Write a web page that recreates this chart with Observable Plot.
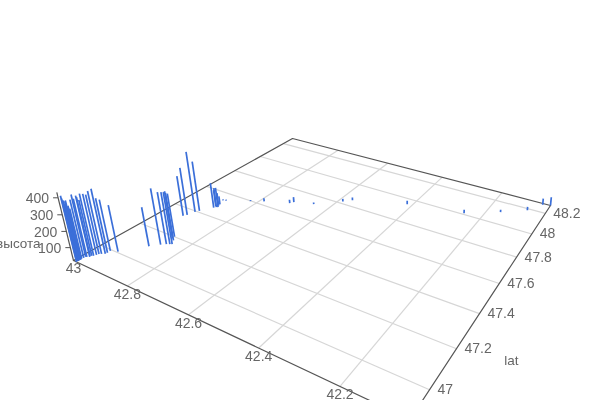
<!DOCTYPE html>
<html>
<head>
<meta charset="utf-8">
<script src="https://cdn.jsdelivr.net/npm/d3@7"></script>
<script src="https://cdn.jsdelivr.net/npm/@observablehq/plot@0.6"></script>
<style>html,body{margin:0;padding:0;background:#fff}svg{display:block;will-change:transform}</style>
</head>
<body>
<div id="chart"></div>
<script>
const lonValues = [42.988,42.989,42.987,42.989,42.991,42.989,42.988,42.988,42.985,42.979,42.979,42.975,42.972,42.965,42.957,42.956,42.957,42.937,
  42.990,42.988,42.987,42.982,42.970,
  42.889,42.869,42.858,42.850,42.845,42.856,42.867,42.865,
  42.929,42.923,42.916,42.909,
  42.888,42.883,42.879,42.889,42.884,42.886,42.894,42.886,
  42.822,42.786,42.715,42.708,42.651,42.586,42.566,42.415,42.251,42.163,42.100,42.071,42.050];
const latValues = [46.874,46.880,46.882,46.889,46.895,46.898,46.906,46.915,46.917,46.923,46.932,46.936,46.946,46.961,46.969,46.978,46.993,47.005,
  46.877,46.885,46.892,46.928,46.955,
  47.096,47.129,47.144,47.151,47.156,47.179,47.201,47.187,
  47.342,47.357,47.394,47.410,
  47.466,47.475,47.479,47.481,47.491,47.503,47.537,47.544,
  47.599,47.629,47.678,47.695,47.728,47.818,47.852,47.951,48.012,48.106,48.186,48.272,48.284];
const heightValues = [419,388,370,382,339,327,376,400,376,394,363,400,394,406,419,357,339,310,
  400,380,350,380,385,
  267,373,348,348,348,322,297,322,
  287,336,423,354,
  190,152,154,131,107,75,27,26,
  26,42,43,55,31,38,39,44,43,36,43,63,78];
const lonTicks = [43,42.8,42.6,42.4,42.2];
const latTicks = [48.2,48,47.8,47.6,47.4,47.2,47];
const heightTicks = [400,300,200,100];

const lonRange = [43, 42.05], latRange = [46.874, 48.284], heightRange = [19, 431];

// Perspective camera of the 3D scene
const cam = {a:219.42,b:353.31,c:73,d:39.21,e:-58.53,f:260,g:-0.2859,h:0.45996,k:-1.151e-4,vx:409,vy:1627};
function project(lon, lat, z = heightRange[0]) {
  const s = (lonRange[0]-lon)/(lonRange[0]-lonRange[1]);
  const t = (lat-latRange[0])/(latRange[1]-latRange[0]);
  const q = (z-heightRange[0])*cam.k;
  const w = cam.g*s+cam.h*t+1+q;
  return [(cam.a*s+cam.b*t+cam.c+q*cam.vx)/w, (cam.d*s+cam.e*t+cam.f+q*cam.vy)/w];
}
const px = (lon,lat,z)=>project(lon,lat,z)[0];
const py = (lon,lat,z)=>project(lon,lat,z)[1];

const bars = lonValues.map((lon,i)=>({lon,lat:latValues[i],height:heightValues[i]}));
const [lon0,lon1] = lonRange, [lat0,lat1] = latRange, [z0,z1] = heightRange;
const frame = [[lon0,lat0],[lon1,lat0],[lon1,lat1],[lon0,lat1],[lon0,lat0]];
const gridColor = "#d6d6d6", axisColor = "#555", textColor = "#666", barColor = "#3b6fd9";
const font = "Liberation Sans, Arial, sans-serif";

const chart = Plot.plot({
  width: 600, height: 400,
  margin: 0,
  x: {domain:[0,600], range:[0,600], axis:null},
  y: {domain:[0,400], range:[0,400], axis:null},
  style: {background:"#fff", fontFamily:font},
  marks: [
    Plot.link(lonTicks.slice(1), {
      x1:d=>px(d,lat0), y1:d=>py(d,lat0), x2:d=>px(d,lat1), y2:d=>py(d,lat1),
      stroke:gridColor, strokeWidth:1.2}),
    Plot.link(latTicks, {
      x1:d=>px(lon0,d), y1:d=>py(lon0,d), x2:d=>px(lon1,d), y2:d=>py(lon1,d),
      stroke:gridColor, strokeWidth:1.2}),
    Plot.line(frame, {x:d=>px(d[0],d[1]), y:d=>py(d[0],d[1]), stroke:axisColor, strokeWidth:1.2}),
    Plot.link([0], {
      x1:()=>px(lon0,lat0,z0), y1:()=>py(lon0,lat0,z0), x2:()=>px(lon0,lat0,z1), y2:()=>py(lon0,lat0,z1),
      stroke:axisColor, strokeWidth:1.2}),
    Plot.link(heightTicks, {
      x1:d=>px(lon0,lat0,d), y1:d=>py(lon0,lat0,d), x2:d=>px(lon0,lat0,d)-5, y2:d=>py(lon0,lat0,d),
      stroke:axisColor, strokeWidth:1}),
    Plot.link(bars, {
      x1:d=>px(d.lon,d.lat), y1:d=>py(d.lon,d.lat),
      x2:d=>px(d.lon,d.lat,d.height), y2:d=>py(d.lon,d.lat,d.height),
      stroke:barColor, strokeWidth:1.7}),
    Plot.text(lonTicks, {
      x:d=>px(d,lat0), y:d=>py(d,lat0), text:d=>String(d), dy:8.5,
      fontSize:14, fill:textColor, textAnchor:"middle"}),
    Plot.text(latTicks, {
      x:d=>px(lon1,d), y:d=>py(lon1,d), text:d=>String(d), dx:8,
      fontSize:14, fill:textColor, textAnchor:"start"}),
    Plot.text(heightTicks, {
      x:d=>px(lon0,lat0,d), y:d=>py(lon0,lat0,d), text:d=>String(d), dx:-9, dy:1,
      fontSize:14, fill:textColor, textAnchor:"end"}),
    Plot.text(["lat"], {
      x:()=>px(lon1,47.2), y:()=>py(lon1,47.2), text:d=>d, dx:55, dy:12,
      fontSize:13.5, fill:textColor, textAnchor:"middle"}),
    Plot.text(["высота"], {
      x:()=>px(lon0,lat0,100), y:()=>py(lon0,lat0,100), text:d=>d, dx:-52, dy:-4,
      fontSize:13.5, fill:textColor, textAnchor:"middle"})
  ]
});
document.getElementById("chart").append(chart);
</script>
</body>
</html>
